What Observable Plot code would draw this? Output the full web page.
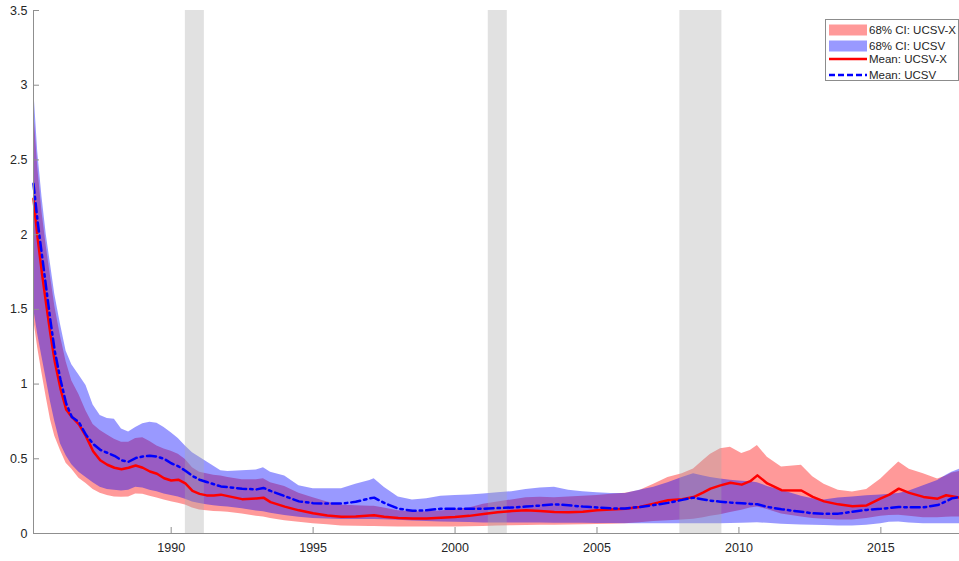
<!DOCTYPE html>
<html>
<head>
<meta charset="utf-8">
<script src="https://cdn.jsdelivr.net/npm/d3@7"></script>
<script src="https://cdn.jsdelivr.net/npm/@observablehq/plot@0.6"></script>
<style>
  body { margin: 0; background: #fff; font-family: "Liberation Sans", Arial, sans-serif; }
  #grafico { position: relative; width: 959px; height: 561px; }
  #leyenda { position: absolute; left: 825px; top: 19px; width: 134px; height: 62px; box-sizing: border-box;
             border: 1px solid #8c8c8c; background: #fff; font-size: 11.5px; color: #262626; }
  .item { position: absolute; left: 3px; height: 14px; display: flex; align-items: center; }
  .item span { margin-left: 2px; white-space: nowrap; }
</style>
</head>
<body>
<div id="grafico"><div id="leyenda"></div></div>
<script>
// fechas (años decimales, trimestres aprox.)
const years = [
  1985.15, 1985.3, 1985.45, 1985.6, 1985.75, 1985.9, 1986.1, 1986.3, 1986.5, 1986.75,
  1987.0, 1987.25, 1987.5, 1987.75, 1988.0, 1988.25, 1988.5, 1988.75, 1989.0, 1989.25,
  1989.5, 1989.75, 1990.0, 1990.25, 1990.5, 1990.75, 1991.0, 1991.25, 1991.5, 1991.75,
  1992.0, 1992.5, 1993.0, 1993.25, 1993.5, 1994.0, 1994.5, 1995.0, 1995.5, 1996.0,
  1996.5, 1997.0, 1997.15, 1997.5, 1998.0, 1998.5, 1999.0, 1999.5, 2000.0, 2000.5,
  2001.0, 2001.5, 2002.0, 2002.5, 2003.0, 2003.5, 2004.0, 2004.5, 2005.0, 2005.5,
  2006.0, 2006.5, 2007.0, 2007.5, 2008.0, 2008.4, 2008.75, 2009.0, 2009.35, 2009.7,
  2010.1, 2010.4, 2010.65, 2011.0, 2011.5, 2012.2, 2012.6, 2013.0, 2013.5, 2014.0,
  2014.5, 2015.0, 2015.3, 2015.63, 2016.0, 2016.5, 2017.0, 2017.3, 2017.5, 2017.77
];

// UCSV-X
const redMean = [
  2.24, 1.97, 1.74, 1.53, 1.33, 1.15, 0.97, 0.83, 0.78, 0.73,
  0.65, 0.55, 0.49, 0.46, 0.44, 0.43, 0.44, 0.455, 0.44, 0.415,
  0.40, 0.37, 0.355, 0.36, 0.335, 0.285, 0.265, 0.255, 0.255, 0.26,
  0.25, 0.23, 0.235, 0.24, 0.21, 0.18, 0.155, 0.135, 0.12, 0.112,
  0.113, 0.12, 0.122, 0.112, 0.104, 0.10, 0.10, 0.105, 0.11, 0.118,
  0.13, 0.142, 0.15, 0.155, 0.15, 0.144, 0.143, 0.145, 0.155, 0.16,
  0.165, 0.177, 0.20, 0.222, 0.23, 0.244, 0.275, 0.30, 0.322, 0.34,
  0.327, 0.35, 0.389, 0.335, 0.29, 0.288, 0.245, 0.215, 0.195, 0.183,
  0.188, 0.235, 0.26, 0.30, 0.272, 0.245, 0.233, 0.256, 0.25, 0.24
];
const redLo = [
  1.44, 1.24, 1.07, 0.91, 0.76, 0.65, 0.555, 0.47, 0.43, 0.37,
  0.335, 0.295, 0.27, 0.255, 0.245, 0.242, 0.245, 0.265, 0.262, 0.25,
  0.238, 0.225, 0.213, 0.202, 0.19, 0.17, 0.158, 0.152, 0.148, 0.145,
  0.143, 0.13, 0.115, 0.11, 0.10, 0.085, 0.075, 0.066, 0.058, 0.05,
  0.048, 0.047, 0.047, 0.046, 0.044, 0.044, 0.044, 0.044, 0.044, 0.045,
  0.047, 0.05, 0.052, 0.053, 0.055, 0.056, 0.057, 0.058, 0.06, 0.062,
  0.065, 0.072, 0.08, 0.085, 0.09, 0.095, 0.105, 0.115, 0.125, 0.14,
  0.155, 0.17, 0.178, 0.16, 0.13, 0.11, 0.10, 0.095, 0.09, 0.09,
  0.10, 0.115, 0.12, 0.122, 0.115, 0.105, 0.105, 0.108, 0.11, 0.11
];
const redHi = [
  2.85, 2.45, 2.15, 1.92, 1.72, 1.52, 1.32, 1.15, 1.02, 0.93,
  0.82, 0.73, 0.69, 0.66, 0.63, 0.61, 0.61, 0.635, 0.64, 0.615,
  0.585, 0.565, 0.55, 0.53, 0.495, 0.44, 0.41, 0.40, 0.39, 0.385,
  0.375, 0.36, 0.36, 0.367, 0.34, 0.315, 0.27, 0.24, 0.21, 0.19,
  0.185, 0.183, 0.182, 0.17, 0.152, 0.145, 0.145, 0.15, 0.16, 0.17,
  0.195, 0.21, 0.225, 0.24, 0.243, 0.24, 0.245, 0.25, 0.255, 0.262,
  0.27, 0.288, 0.33, 0.375, 0.40, 0.432, 0.49, 0.53, 0.567, 0.578,
  0.535, 0.555, 0.589, 0.51, 0.445, 0.456, 0.38, 0.33, 0.29, 0.278,
  0.295, 0.365, 0.42, 0.478, 0.43, 0.40, 0.365, 0.385, 0.405, 0.415
];

// UCSV
const blueMean = [
  2.34, 2.08, 1.86, 1.64, 1.42, 1.22, 1.03, 0.87, 0.78, 0.745,
  0.66, 0.60, 0.56, 0.54, 0.52, 0.49, 0.48, 0.505, 0.515, 0.52,
  0.515, 0.50, 0.47, 0.45, 0.42, 0.385, 0.36, 0.345, 0.33, 0.315,
  0.31, 0.30, 0.295, 0.305, 0.285, 0.25, 0.215, 0.203, 0.20, 0.20,
  0.212, 0.235, 0.24, 0.205, 0.166, 0.152, 0.155, 0.166, 0.166, 0.166,
  0.166, 0.17, 0.174, 0.18, 0.187, 0.195, 0.189, 0.18, 0.174, 0.168,
  0.168, 0.177, 0.19, 0.205, 0.225, 0.24, 0.228, 0.22, 0.213, 0.207,
  0.203, 0.198, 0.196, 0.178, 0.162, 0.145, 0.135, 0.132, 0.133, 0.145,
  0.158, 0.165, 0.17, 0.178, 0.175, 0.175, 0.19, 0.215, 0.235, 0.244
];
const blueLo = [
  1.51, 1.33, 1.18, 1.03, 0.88, 0.75, 0.60, 0.52, 0.46, 0.41,
  0.375, 0.34, 0.31, 0.295, 0.29, 0.285, 0.29, 0.31, 0.305, 0.29,
  0.28, 0.265, 0.255, 0.245, 0.23, 0.21, 0.20, 0.192, 0.185, 0.18,
  0.177, 0.165, 0.15, 0.145, 0.135, 0.12, 0.108, 0.10, 0.097, 0.093,
  0.093, 0.093, 0.093, 0.092, 0.088, 0.084, 0.08, 0.077, 0.075, 0.073,
  0.071, 0.07, 0.07, 0.07, 0.07, 0.069, 0.068, 0.068, 0.067, 0.067,
  0.066, 0.066, 0.066, 0.066, 0.066, 0.066, 0.066, 0.066, 0.066, 0.067,
  0.068, 0.07, 0.072, 0.068, 0.062, 0.057, 0.055, 0.053, 0.05, 0.05,
  0.055, 0.065, 0.075, 0.077, 0.07, 0.065, 0.065, 0.065, 0.065, 0.065
];
const blueHi = [
  3.0, 2.55, 2.25, 2.0, 1.80, 1.60, 1.40, 1.22, 1.13, 1.06,
  0.99, 0.86, 0.79, 0.77, 0.765, 0.70, 0.68, 0.71, 0.735, 0.745,
  0.738, 0.71, 0.675, 0.635, 0.585, 0.54, 0.51, 0.48, 0.45, 0.42,
  0.415, 0.42, 0.425, 0.44, 0.41, 0.385, 0.32, 0.30, 0.30, 0.30,
  0.33, 0.355, 0.366, 0.31, 0.244, 0.225, 0.232, 0.25, 0.254, 0.258,
  0.265, 0.272, 0.28, 0.295, 0.305, 0.31, 0.29, 0.28, 0.272, 0.268,
  0.268, 0.29, 0.31, 0.34, 0.375, 0.40, 0.385, 0.375, 0.365, 0.356,
  0.35, 0.346, 0.34, 0.315, 0.29, 0.25, 0.232, 0.225, 0.238, 0.245,
  0.252, 0.258, 0.262, 0.267, 0.285, 0.32, 0.355, 0.39, 0.41, 0.43
];

// recesiones (NBER)
const recStart = [1990.5, 2001.17, 2007.92];
const recEnd = [1991.17, 2001.84, 2009.4];

const xDomain = [1985.15, 2017.77];
const xTicks = [1990, 1995, 2000, 2005, 2010, 2015];
const yTicks = [0, 0.5, 1, 1.5, 2, 2.5, 3, 3.5];

const legendItems = [
  {label: "68% CI: UCSV-X", kind: "band", color: "#ff0000"},
  {label: "68% CI: UCSV", kind: "band", color: "#0000ff"},
  {label: "Mean: UCSV-X", kind: "line", color: "#ff0000", dash: null},
  {label: "Mean: UCSV", kind: "line", color: "#0000ff", dash: "6,3"}
];

const filas = years.map((t, i) => ({
  t, rm: redMean[i], rl: redLo[i], rh: redHi[i], bm: blueMean[i], bl: blueLo[i], bh: blueHi[i]
}));
const recesiones = recStart.map((s, i) => ({s, e: recEnd[i]}));

const ejeGris = "#8f8f8f";

let chart = Plot.plot({
  width: 959,
  height: 561,
  marginLeft: 33,
  marginRight: 0,
  marginTop: 10,
  marginBottom: 28,
  style: {fontFamily: '"Liberation Sans", Arial, sans-serif', fontSize: "12px", background: "#fff"},
  x: {domain: xDomain},
  y: {domain: [0, 3.5]},
  marks: [
    Plot.areaY(filas, {x: "t", y1: "rl", y2: "rh", fill: "#ff0000", fillOpacity: 0.4}),
    Plot.areaY(filas, {x: "t", y1: "bl", y2: "bh", fill: "#0000ff", fillOpacity: 0.4}),
    Plot.rect(recesiones, {x1: "s", x2: "e", fill: "#aaaaaa", fillOpacity: 0.35}),
    Plot.line(filas, {x: "t", y: "rm", stroke: "#ff0000", strokeWidth: 2.5}),
    Plot.line(filas, {x: "t", y: "bm", stroke: "#0000ff", strokeWidth: 2.5, strokeDasharray: "9,4,2.5,4"}),
    Plot.ruleY([0], {stroke: ejeGris}),
    Plot.ruleX([xDomain[0]], {stroke: ejeGris}),
    Plot.axisX({ticks: xTicks, tickFormat: d => String(d), tickSize: -6, tickPadding: 16, fontSize: 12.5,
                stroke: ejeGris, fill: "#262626", label: null}),
    Plot.axisY({ticks: yTicks, tickFormat: d => String(d), tickSize: -6, tickPadding: 12, fontSize: 12.5,
                stroke: ejeGris, fill: "#262626", label: null})
  ]
});

d3.select('#grafico svg').remove();
d3.select('#grafico').insert(() => chart, '#leyenda');

// leyenda estilo MATLAB
const tops = [3, 18.5, 32, 47.5];
const ley = d3.select('#leyenda');
legendItems.forEach((it, i) => {
  const fila = ley.append('div').attr('class', 'item').style('top', tops[i] + 'px');
  const sw = fila.append('svg').attr('width', 38).attr('height', 12);
  if (it.kind === "band") {
    sw.append('rect').attr('x', 0).attr('y', 0.5).attr('width', 38).attr('height', 11)
      .attr('fill', it.color).attr('fill-opacity', 0.4);
  } else {
    sw.append('line').attr('x1', 0).attr('x2', 38).attr('y1', 6).attr('y2', 6)
      .attr('stroke', it.color).attr('stroke-width', 2.5)
      .attr('stroke-dasharray', it.dash);
  }
  fila.append('span').text(it.label);
});
</script>
</body>
</html>
